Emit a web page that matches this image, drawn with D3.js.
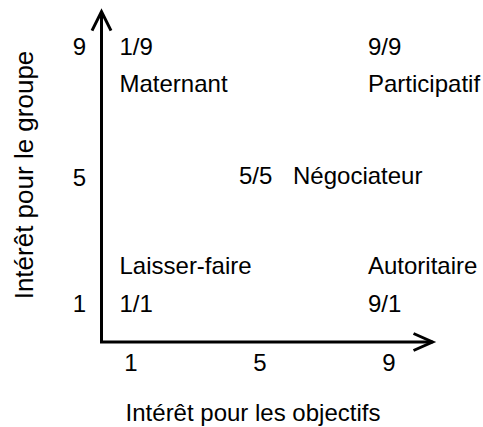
<!DOCTYPE html>
<html>
<head>
<meta charset="utf-8">
<script src="https://cdn.jsdelivr.net/npm/d3@7/dist/d3.min.js"></script>
<style>
    body { margin: 0; background: #ffffff; }
    text { font-family: "Liberation Sans", Arial, sans-serif; fill: #000000; }
</style>
</head>
<body>
<div id="chart"></div>
<script>
//data
var tick_values = [1, 5, 9];
var style_codes = ['1/9', '9/9', '5/5', '1/1', '9/1'];
var style_names = ['Maternant', 'Participatif', 'Négociateur', 'Laisser-faire', 'Autoritaire'];
var objectifs_values = [1, 9, 5, 1, 9];
var groupe_values = [9, 9, 5, 1, 1];
var x_title = 'Intérêt pour les objectifs';
var y_title = 'Intérêt pour le groupe';

function grid_chart(){
    //variables
    var width = 483;
    var height = 427;
    var origin = {'x': 101.5, 'y': 342};
    var axis_max = 10.35;
    var font_size = 24;

    function chart(selection){
        selection.each(function(){
            var svg;
            var element = this;
            var x;
            var y;

            function initSvg(){
                svg = d3.select(element)
                    .append('svg')
                    .attr('width', width)
                    .attr('height', height);
            }

            function initScales(){
                x = d3.scaleLinear()
                    .domain([1, 9])
                    .range([131, 389]);
                y = d3.scaleLinear()
                    .domain([1, 9])
                    .range([312, 55]);
            }

            function axes(){
                var axis_group = svg.append('g')
                    .attr('class', 'axes')
                    .style('fill', 'none')
                    .style('stroke', 'black')
                    .style('stroke-width', 3);

                var tip_x = x(axis_max);
                var tip_y = y(axis_max);

                axis_group.append('path')
                    .attr('d', 'M' + origin.x + ',' + tip_y + 'V' + origin.y + 'H' + tip_x);

                //arrow heads
                axis_group.append('path')
                    .attr('d', 'M' + (origin.x - 9.5) + ',' + (tip_y + 19) + 'L' + origin.x + ',' + tip_y + 'L' + (origin.x + 9.5) + ',' + (tip_y + 19));
                axis_group.append('path')
                    .attr('d', 'M' + (tip_x - 19) + ',' + (origin.y - 8.5) + 'L' + tip_x + ',' + origin.y + 'L' + (tip_x - 19) + ',' + (origin.y + 8.5));

                //tick labels
                svg.append('g').selectAll('text')
                    .data(tick_values)
                    .enter()
                    .append('text')
                    .attr('x', function(d){ return x(d); })
                    .attr('y', 371)
                    .attr('text-anchor', 'middle')
                    .style('font-size', font_size + 'px')
                    .text(function(d){ return d; });

                svg.append('g').selectAll('text')
                    .data(tick_values)
                    .enter()
                    .append('text')
                    .attr('x', 86)
                    .attr('y', function(d){ return y(d) + (d == 5 ? 2 : 0); })
                    .attr('text-anchor', 'end')
                    .style('font-size', font_size + 'px')
                    .text(function(d){ return d; });

                //titles
                svg.append('text')
                    .attr('x', 253)
                    .attr('y', 421)
                    .attr('text-anchor', 'middle')
                    .style('font-size', font_size + 'px')
                    .text(x_title);

                svg.append('text')
                    .attr('transform', 'translate(33,175) rotate(-90)')
                    .attr('text-anchor', 'middle')
                    .style('font-size', '26px')
                    .text(y_title);
            }

            function labels(){
                var label_group = svg.append('g')
                    .attr('class', 'labels');

                style_codes.forEach(function(code, i){
                    var vx = objectifs_values[i];
                    var vy = groupe_values[i];
                    //keep labels clear of the vertical axis
                    var lx = Math.max(x(vx) - 21, origin.x + 18);
                    var ly = y(vy);

                    label_group.append('text')
                        .attr('x', lx)
                        .attr('y', ly)
                        .style('font-size', font_size + 'px')
                        .text(code);

                    var name = label_group.append('text')
                        .style('font-size', font_size + 'px')
                        .text(style_names[i]);

                    if(vy > 5)
                        name.attr('x', lx).attr('y', ly + 37);
                    else if(vy < 5)
                        name.attr('x', lx).attr('y', ly - 38);
                    else
                        name.attr('x', lx + 54).attr('y', ly);
                });
            }

            initSvg();
            initScales();
            axes();
            labels();
        });
    }

    return chart;
}

d3.select('#chart').call(grid_chart());
</script>
</body>
</html>
